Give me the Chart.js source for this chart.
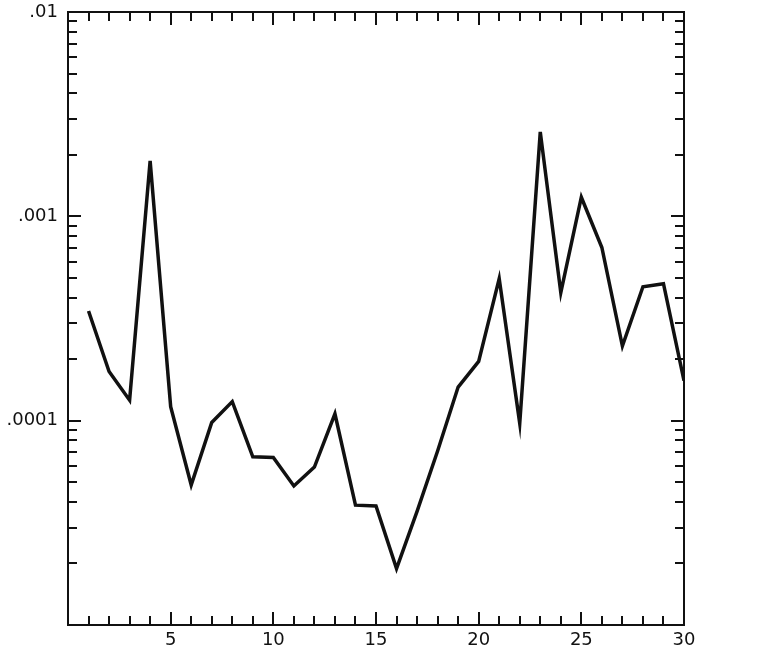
<!DOCTYPE html>
<html>
<head>
<meta charset="utf-8">
<script src="https://cdn.jsdelivr.net/npm/chart.js@4.4.1/dist/chart.umd.min.js"></script>
<style>
  html, body { margin: 0; padding: 0; background: #fff; }
  #wrap { width: 757px; height: 666px; position: relative; }
</style>
</head>
<body>
<div id="wrap"><canvas id="c" width="757" height="666"></canvas></div>
<script>
// ---- data ----
const xValues = [1,2,3,4,5,6,7,8,9,10,11,12,13,14,15,16,17,18,19,20,21,22,23,24,25,26,27,28,29,30];
const yValues = [3.44e-4,1.74e-4,1.26e-4,1.87e-3,1.17e-4,4.84e-5,9.8e-5,1.24e-4,6.65e-5,6.6e-5,
                 4.79e-5,5.93e-5,1.08e-4,3.86e-5,3.82e-5,1.89e-5,3.6e-5,7.1e-5,1.46e-4,1.95e-4,
                 4.96e-4,9.7e-5,2.59e-3,4.23e-4,1.24e-3,7.04e-4,2.32e-4,4.52e-4,4.68e-4,1.57e-4];
const xTickLabels = {5:'5',10:'10',15:'15',20:'20',25:'25',30:'30'};
const yTickLabels = {'-2':'.01','-3':'.001','-4':'.0001'};
const yMin = 1e-5, yMax = 1e-2;
const xMin = 0, xMax = 30;

// minor tick values for log axis
const yTickValues = [];
for (let e = -5; e <= -2; e++) {
  for (let m = 1; m <= 9; m++) {
    const v = m * Math.pow(10, e);
    if (v <= yMax * 1.0001) yTickValues.push(v);
  }
}

const tickPlugin = {
  id: 'insideTicks',
  afterDraw(chart) {
    const ctx = chart.ctx;
    const a = chart.chartArea;
    const xs = chart.scales.x, ys = chart.scales.y;
    ctx.save();
    ctx.strokeStyle = '#111';
    ctx.lineWidth = 2;
    ctx.strokeRect(a.left, a.top, a.right - a.left, a.bottom - a.top);
    ctx.lineWidth = 2;
    // x ticks (bottom and top)
    for (let i = xMin + 1; i < xMax; i++) {
      const px = Math.round(xs.getPixelForValue(i));
      const len = (i % 5 === 0) ? 13 : 9;
      ctx.beginPath();
      ctx.moveTo(px, a.bottom); ctx.lineTo(px, a.bottom - len);
      ctx.moveTo(px, a.top); ctx.lineTo(px, a.top + len);
      ctx.stroke();
    }
    // y ticks (left and right)
    yTickValues.forEach(v => {
      if (v <= yMin * 1.0001 || v >= yMax * 0.9999) return;
      const py = Math.round(ys.getPixelForValue(v));
      const lg = Math.log10(v);
      const major = Math.abs(lg - Math.round(lg)) < 1e-9;
      const len = major ? 13 : 9;
      ctx.beginPath();
      ctx.moveTo(a.left, py); ctx.lineTo(a.left + len, py);
      ctx.moveTo(a.right, py); ctx.lineTo(a.right - len, py);
      ctx.stroke();
    });
    ctx.restore();
  }
};

new Chart(document.getElementById('c'), {
  type: 'line',
  data: {
    datasets: [{
      data: xValues.map((x, i) => ({x: x, y: yValues[i]})),
      borderColor: '#111',
      borderWidth: 3.5,
      pointRadius: 0,
      tension: 0,
      fill: false,
      borderJoinStyle: 'miter'
    }]
  },
  options: {
    responsive: false,
    animation: false,
    devicePixelRatio: 1,
    layout: { padding: { top: 12, right: 73, left: 0, bottom: 0 } },
    plugins: { legend: { display: false }, tooltip: { enabled: false } },
    scales: {
      x: {
        type: 'linear',
        min: xMin, max: xMax,
        grid: { display: false, drawTicks: false },
        border: { display: false },
        afterFit(s) { s.height = 41; s.paddingLeft = 0; s.paddingRight = 0; },
        ticks: {
          stepSize: 5,
          padding: 5,
          color: '#111',
          font: { family: 'DejaVu Sans', size: 18 },
          callback: v => xTickLabels[v] || ''
        }
      },
      y: {
        type: 'logarithmic',
        min: yMin, max: yMax,
        grid: { display: false, drawTicks: false },
        border: { display: false },
        afterFit(s) { s.width = 68; s.paddingTop = 0; s.paddingBottom = 0; },
        afterBuildTicks(s) {
          s.ticks = [1e-5, 1e-4, 1e-3, 1e-2].map(v => ({value: v}));
        },
        ticks: {
          padding: 10,
          color: '#111',
          autoSkip: false,
          font: { family: 'DejaVu Sans', size: 18 },
          callback: v => yTickLabels[String(Math.round(Math.log10(v)))] || ''
        }
      }
    }
  },
  plugins: [tickPlugin]
});
</script>
</body>
</html>
